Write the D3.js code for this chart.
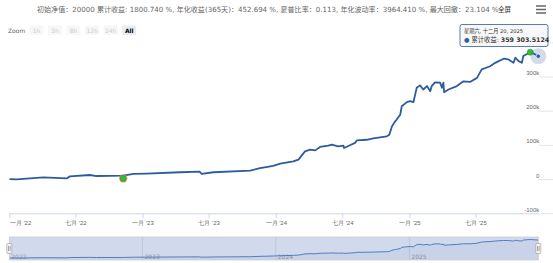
<!DOCTYPE html>
<html><head><meta charset="utf-8">
<script src="https://cdn.jsdelivr.net/npm/d3@7"></script>
<style>
html,body{margin:0;padding:0;background:#fff;}
svg{display:block;font-family:"DejaVu Sans","Noto Sans CJK SC",sans-serif;}
</style>
</head><body>
<svg id="c" width="553" height="263"></svg>
<script>
// ---------- data ----------
const dates = ["2022-01-01","2022-01-21","2022-04-04","2022-06-07","2022-06-16","2022-08-10","2022-08-28","2022-11-09","2022-12-07","2023-01-12","2023-04-14","2023-06-06","2023-06-12","2023-07-14","2023-10-23","2023-11-19","2023-12-25","2024-01-13","2024-02-18","2024-03-03","2024-03-21","2024-04-04","2024-04-18","2024-05-01","2024-05-24","2024-06-02","2024-06-20","2024-07-04","2024-07-06","2024-07-22","2024-08-05","2024-08-10","2024-09-06","2024-09-24","2024-10-31","2024-11-07","2024-11-14","2024-11-23","2024-11-27","2024-12-07","2024-12-11","2024-12-25","2025-01-03","2025-01-12","2025-01-21","2025-01-30","2025-02-08","2025-02-18","2025-02-27","2025-03-03","2025-03-12","2025-03-26","2025-03-31","2025-04-04","2025-04-06","2025-04-18","2025-05-11","2025-05-29","2025-06-16","2025-07-05","2025-07-18","2025-08-10","2025-08-24","2025-09-16","2025-09-29","2025-10-13","2025-10-18","2025-10-27","2025-11-05","2025-11-09","2025-11-28","2025-12-07","2025-12-20"];
const values = [0,-1000,5000,2000,8000,12000,9000,10000,15000,16000,20000,22000,15000,20000,25000,32000,39000,45000,52000,57000,81000,86000,84000,94000,98000,101000,96000,98000,91000,99000,106000,113000,115000,119000,125000,130000,154000,169000,174000,189000,213000,225000,228000,225000,267000,274000,262000,272000,257000,272000,283000,282000,267000,282000,254000,262000,272000,286000,284000,296000,321000,330000,340000,352000,350000,340000,355000,345000,340000,360000,371000,367000,359303.5124];
const markerDates = ["2022-11-09","2025-11-28"];
const markerValues = [2000, 371000];
const xTickDates = ["2022-01-01","2022-07-01","2023-01-01","2023-07-01","2024-01-01","2024-07-01","2025-01-01","2025-07-01"];
const xTickLabels = ["一月 '22","七月 '22","一月 '23","七月 '23","一月 '24","七月 '24","一月 '25","七月 '25"];
const yTicks = [-100000,0,100000,200000,300000,400000];
const yTickLabels = ["-100k","0","100k","200k","300k",""]; // 400k label hidden under the tooltip
const navYearDates = ["2022-01-01","2023-01-01","2024-01-01","2025-01-01"];
const navYearLabels = ["2022","2023","2024","2025"];
const zoomButtons = ["1h","3h","8h","12h","24h","All"];
const titleText = "初始净值：20000 累计收益: 1800.740 %, 年化收益(365天)：452.694 %, 夏普比率：0.113, 年化波动率：3964.410 %, 最大回撤：23.104 %";
const seriesName = "累计收益";
const tooltipDate = "星期六, 十二月 20, 2025";
const tooltipValue = "359 303.5124";

// ---------- setup ----------
const parse = d3.utcParse("%Y-%m-%d");
const data = dates.map((d,i)=>({date:parse(d), value:values[i]}));
const svg = d3.select("#c");
const color = "#2d5c9e";
const L = 9.3, R = 538.3, T = 42.3, B = 213.3;

const x = d3.scaleUtc().domain([parse("2022-01-01"), parse("2025-12-20")]).range([L, R]);
const y = d3.scaleLinear().domain([-100000, 400000]).range([B, T]);

// title
const title = svg.append("text").attr("x", 37).attr("y", 12)
  .attr("fill","#666").style("font-size","7px").text(titleText);
const tw = title.node().getComputedTextLength();
title.style("font-size", (7 * 462 / tw) + "px");
svg.append("text").attr("x", 498).attr("y", 12).attr("fill","#333")
  .style("font-size","6.5px").text("全屏");
// hamburger
[6,9.5,13].forEach(yy => svg.append("line").attr("x1",536).attr("x2",546)
  .attr("y1",yy).attr("y2",yy).attr("stroke","#666").attr("stroke-width",1.5));

// zoom buttons
svg.append("text").attr("x",8).attr("y",32.5).attr("fill","#666")
  .style("font-size","6px").text("Zoom");
zoomButtons.forEach((b,i)=>{
  const bx = 29.3 + i*18.6, sel = b === "All";
  svg.append("rect").attr("x",bx).attr("y",25.5).attr("width",14).attr("height",9.5)
    .attr("rx",1.5).attr("fill", sel ? "#e6ebf5" : "#f7f7f7");
  svg.append("text").attr("x",bx+7).attr("y",32.5).attr("text-anchor","middle")
    .attr("fill", sel ? "#000" : "#cccccc").style("font-weight", sel ? "bold":"normal")
    .style("font-size","6px").text(b);
});

// y grid + labels
const yAxis = d3.axisLeft(y).tickValues(yTicks).tickSize(-(R-L)).tickPadding(-1)
  .tickFormat((d,i)=>yTickLabels[i]);
const gy = svg.append("g").attr("transform",`translate(${R},0)`).call(yAxis);
gy.select(".domain").remove();
gy.selectAll(".tick line").attr("stroke","#e6e6e6");
gy.selectAll(".tick text").attr("fill","#666").attr("dy","-2").attr("y",0)
  .style("font-size","6px").style("font-family","inherit");

// x axis
const xAxis = d3.axisBottom(x).tickValues(xTickDates.map(parse)).tickSize(5).tickSizeOuter(0)
  .tickPadding(2).tickFormat((d,i)=>xTickLabels[i]);
const gx = svg.append("g").attr("transform",`translate(0,${B})`).call(xAxis);
gx.select(".domain").attr("stroke","#ccd6eb");
gx.selectAll(".tick line").attr("stroke","#ccd6eb");
gx.selectAll(".tick text").attr("fill","#666").style("font-size","6px").style("font-family","inherit");
gx.selectAll(".tick text").filter((d,i)=>i===0).attr("text-anchor","start");

// line
svg.append("defs").append("clipPath").attr("id","clip").append("rect")
  .attr("x",L).attr("y",0).attr("width",R-L+2).attr("height",B);
const line = d3.line().x(d=>x(d.date)).y(d=>y(d.value));
svg.append("path").datum(data).attr("d",line).attr("fill","none")
  .attr("stroke",color).attr("stroke-width",1.8).attr("stroke-linejoin","round")
  .attr("clip-path","url(#clip)");

// markers
markerDates.forEach((d,i)=>{
  const cx = x(parse(d)), cy = y(markerValues[i]);
  if (i === 0) svg.append("circle").attr("cx",cx).attr("cy",cy).attr("r",4.2).attr("fill","#f08080").attr("opacity",0.8);
  svg.append("circle").attr("cx",cx).attr("cy",cy).attr("r",3).attr("fill","#2fbf2f").attr("stroke","#1e9e1e").attr("stroke-width",0.6);
});

// hover halo on last point
const last = data[data.length-1];
svg.append("circle").attr("cx",x(last.date)).attr("cy",y(last.value)).attr("r",8)
  .attr("fill",color).attr("opacity",0.22);
svg.append("circle").attr("cx",x(last.date)).attr("cy",y(last.value)).attr("r",2.2)
  .attr("fill",color).attr("stroke","#fff").attr("stroke-width",0.7);

// tooltip
const tg = svg.append("g");
tg.append("rect").attr("x",460).attr("y",24.5).attr("width",88).attr("height",22).attr("rx",2)
  .attr("fill","rgba(247,247,247,0.92)").attr("stroke",color).attr("stroke-width",0.8);
tg.append("text").attr("x",464).attr("y",33).attr("fill","#333").style("font-size","5.2px").text(tooltipDate);
const t2 = tg.append("text").attr("x",464).attr("y",42).attr("fill","#333").style("font-size","6.3px");
t2.append("tspan").attr("fill",color).text("● ");
t2.append("tspan").text(seriesName + ": ");
t2.append("tspan").style("font-weight","bold").text(tooltipValue);

// navigator
const NT = 237, NB = 260;
const ny = d3.scaleLinear().domain(d3.extent(values)).range([258, 239.5]);
svg.append("rect").attr("x",L).attr("y",NT).attr("width",R-L).attr("height",NB-NT).attr("fill","#fff");
navYearDates.forEach((d,i)=>{
  const xx = x(parse(d));
  if (i>0) svg.append("line").attr("x1",xx).attr("x2",xx).attr("y1",NT).attr("y2",NB).attr("stroke","#e6e6e6");
  svg.append("text").attr("x",xx+2).attr("y",258.5).attr("fill","#999").style("font-size","6px").text(navYearLabels[i]);
});
const area = d3.area().x(d=>x(d.date)).y0(NB).y1(d=>ny(d.value));
svg.append("path").datum(data).attr("d",area).attr("fill",color).attr("opacity",0.06);
svg.append("path").datum(data).attr("d",d3.line().x(d=>x(d.date)).y(d=>ny(d.value)))
  .attr("fill","none").attr("stroke","#4a78c0").attr("stroke-width",1);
svg.append("rect").attr("x",L).attr("y",NT).attr("width",R-L).attr("height",NB-NT)
  .attr("fill","rgba(102,133,194,0.3)").attr("stroke","#ccc").attr("stroke-width",0.8);
[L, R].forEach(hx=>{
  svg.append("rect").attr("x",hx-2.5).attr("y",243.5).attr("width",5).attr("height",10)
    .attr("fill","#f2f2f2").attr("stroke","#999").attr("stroke-width",0.6).attr("rx",0.5);
  [-0.8,0.8].forEach(o=>svg.append("line").attr("x1",hx+o).attr("x2",hx+o).attr("y1",246).attr("y2",251)
    .attr("stroke","#333").attr("stroke-width",0.4));
});
</script>
</body></html>
